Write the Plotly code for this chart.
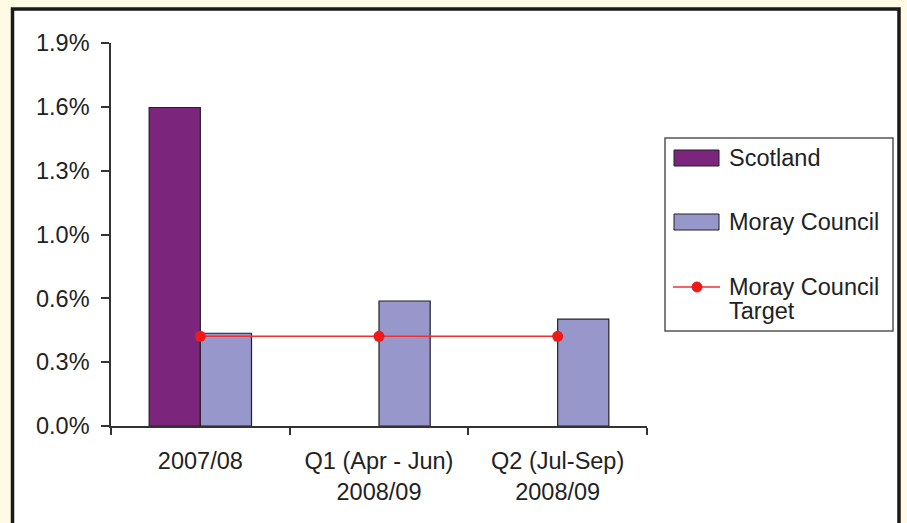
import plotly.graph_objects as go

categories = ["2007/08", "Q1 (Apr - Jun)<br>2008/09", "Q2 (Jul-Sep)<br>2008/09"]
scotland = [1.58, None, None]
moray = [0.46, 0.62, 0.53]
target = [0.445, 0.445, 0.445]
y_tick_values = [0, 0.3167, 0.6333, 0.95, 1.2667, 1.5833, 1.9]
y_tick_labels = ["0.0%", "0.3%", "0.6%", "1.0%", "1.3%", "1.6%", "1.9%"]
series_names = ["Scotland", "Moray Council", "Moray Council", "Target"]

W, H = 907, 523
L, R, T, B = 111, 647, 43, 426  # plot area pixels
FONT = "Liberation Sans, Arial, sans-serif"
FS = 23.5
TXT = "#222222"
C_SCOT = "#7B267C"
C_MORAY = "#9797CB"
C_TARGET = "#F03030"

fig = go.Figure()
fig.add_trace(go.Bar(x=categories, y=scotland, name=series_names[0], showlegend=False,
                     marker=dict(color=C_SCOT, line=dict(color="#222222", width=1.2))))
fig.add_trace(go.Bar(x=categories, y=moray, name=series_names[1], showlegend=False,
                     marker=dict(color=C_MORAY, line=dict(color="#222222", width=1.2))))
fig.add_trace(go.Scatter(x=categories, y=target, name=series_names[2] + " " + series_names[3],
                         mode="lines+markers", showlegend=False,
                         line=dict(color=C_TARGET, width=1.5),
                         marker=dict(color="#F01818", size=11)))


def px_x(p):
    return (p - L) / (R - L)


def px_y(p):
    return (B - p) / (B - T)


# outer frame
fig.add_shape(type="rect", xref="paper", yref="paper",
              x0=px_x(12.5), x1=px_x(899), y0=px_y(560), y1=px_y(9),
              fillcolor="white", line=dict(color="#1a1a1a", width=3.5), layer="below")

# legend box
fig.add_shape(type="rect", xref="paper", yref="paper",
              x0=px_x(665), x1=px_x(893), y0=px_y(331), y1=px_y(138),
              fillcolor="white", line=dict(color="#555555", width=1.5))
# swatches
fig.add_shape(type="rect", xref="paper", yref="paper",
              x0=px_x(674), x1=px_x(719), y0=px_y(166), y1=px_y(150),
              fillcolor=C_SCOT, line=dict(color="#222222", width=1))
fig.add_shape(type="rect", xref="paper", yref="paper",
              x0=px_x(674), x1=px_x(719), y0=px_y(230), y1=px_y(214),
              fillcolor=C_MORAY, line=dict(color="#222222", width=1))
fig.add_shape(type="line", xref="paper", yref="paper",
              x0=px_x(673), x1=px_x(720), y0=px_y(287), y1=px_y(287),
              line=dict(color=C_TARGET, width=1.5))
fig.add_shape(type="circle", xref="paper", yref="paper",
              x0=px_x(692), x1=px_x(702), y0=px_y(292), y1=px_y(282),
              fillcolor="#F01818", line=dict(color="#F01818", width=1))

legend_text_y = [158, 222, 287, 311]
for name, yy in zip(series_names, legend_text_y):
    fig.add_annotation(xref="paper", yref="paper", x=px_x(727), y=px_y(yy),
                       text=name, showarrow=False, xanchor="left", yanchor="middle",
                       font=dict(family=FONT, size=FS, color=TXT))

fig.update_layout(
    width=W, height=H,
    margin=dict(l=L, r=W - R, t=T, b=H - B, pad=0),
    paper_bgcolor="#FEFAE4",
    plot_bgcolor="white",
    barmode="group",
    bargap=0.427,
    bargroupgap=0,
    font=dict(family=FONT, size=FS, color=TXT),
    showlegend=False,
    xaxis=dict(type="category", showline=True, linecolor="#333333", linewidth=1.5,
               ticks="outside", ticklen=7, tickcolor="#333333", tickwidth=1.5,
               tickson="boundaries", showgrid=False, zeroline=False,
               ticklabelstandoff=13,
               tickfont=dict(family=FONT, size=FS, color=TXT)),
    yaxis=dict(range=[0, 1.9], showline=True, linecolor="#333333", linewidth=1.5,
               ticks="outside", ticklen=8, tickcolor="#333333", tickwidth=1.5,
               tickvals=y_tick_values, ticktext=y_tick_labels,
               showgrid=False, zeroline=False, ticklabelstandoff=7,
               tickfont=dict(family=FONT, size=FS, color=TXT)),
)

fig.write_html("out.html",
               config={"displayModeBar": False},
               post_script="document.body.style.margin='0px';document.body.style.background='#FEFAE4';")
